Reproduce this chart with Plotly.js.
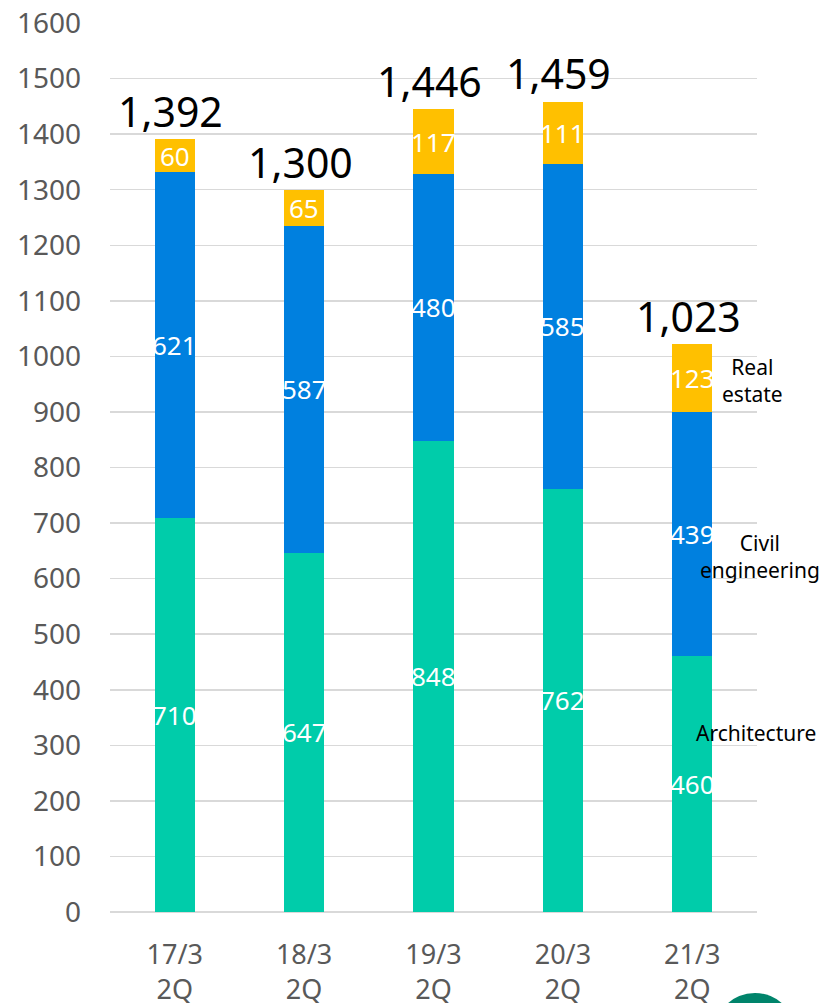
<!DOCTYPE html>
<html><head><meta charset="utf-8">
<script src="https://cdn.plot.ly/plotly-3.0.1.min.js"></script>
<style>html,body{margin:0;padding:0;background:#fff}#c{width:821px;height:1003px}</style>
</head><body><div id="c"></div>
<script>
const categories = ["17/3<br>2Q", "18/3<br>2Q", "19/3<br>2Q", "20/3<br>2Q", "21/3<br>2Q"];
const architecture = [710, 647, 848, 762, 460];
const civilEngineering = [621, 587, 480, 585, 439];
const realEstate = [60, 65, 117, 111, 123];
const totals = [1392, 1300, 1446, 1459, 1023];
const seriesNames = ["Architecture", "Civil<br>engineering", "Real<br>estate"];

const colors = ["#00CCAA", "#0080DF", "#FFC000"];
const series = [architecture, civilEngineering, realEstate];

const traces = series.map((vals, i) => ({
  type: "bar", x: categories, y: vals, name: seriesNames[i],
  marker: {color: colors[i], line: {width: 0}}, hoverinfo: "skip"
}));

const annotations = [];
categories.forEach((c, j) => {
  let base = 0;
  series.forEach((vals) => {
    annotations.push({x: c, y: base + vals[j] / 2, xref: "x", yref: "y", text: String(vals[j]),
      showarrow: false, font: {family: "Noto Sans", size: 26, color: "#ffffff"}});
    base += vals[j];
  });
  annotations.push({x: c, y: totals[j], xref: "x", yref: "y", yanchor: "bottom", yshift: -2, xshift: -4,
    text: totals[j].toLocaleString("en-US"), showarrow: false,
    font: {family: "Noto Sans", size: 41, color: "#000000"}});
});
const last = categories.length - 1;
let b = 0;
const nameX = [0.998, 1.004, 0.993];
const nameFrac = [0.7, 0.41, 0.47];
series.forEach((vals, i) => {
  annotations.push({x: nameX[i], xref: "paper", xanchor: "center", y: b + vals[last] * nameFrac[i], yref: "y",
    text: seriesNames[i], showarrow: false, align: "center",
    font: {family: "Noto Sans", size: 21, color: "#000000"}});
  b += vals[last];
});

const layout = {
  width: 821, height: 1003,
  margin: {l: 110, r: 64, t: 23, b: 91},
  barmode: "stack", bargap: 0.69,
  showlegend: false,
  paper_bgcolor: "#ffffff", plot_bgcolor: "#ffffff",
  xaxis: {type: "category", showgrid: false, zeroline: false, showline: false, ticks: "",
    ticklabelstandoff: 24,
    tickfont: {family: "Noto Sans", size: 27, color: "#595959"}},
  yaxis: {range: [0, 1600], dtick: 100, showgrid: true, gridcolor: "#D9D9D9", gridwidth: 1.5,
    zeroline: true, zerolinecolor: "#D9D9D9", zerolinewidth: 1.5, showline: false, ticks: "",
    ticklabelstandoff: 28,
    tickfont: {family: "Noto Sans", size: 28, color: "#595959"}},
  annotations: annotations,
  shapes: [{type: "circle", xref: "paper", yref: "paper", x0: 0.9335, x1: 1.060, y0: -0.1834, y1: -0.0911,
    fillcolor: "#00846B", line: {width: 0}}]
};

Plotly.newPlot("c", traces, layout, {staticPlot: true, displayModeBar: false});
</script></body></html>
